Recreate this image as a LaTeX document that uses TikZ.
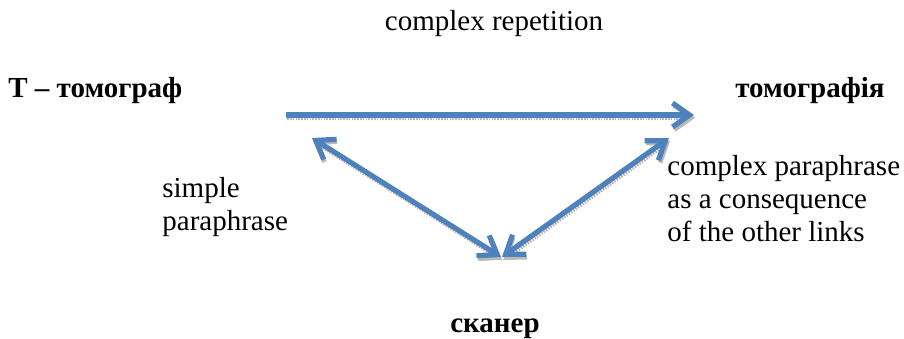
\documentclass[tikz,border=0pt]{standalone}
\usepackage{fontspec}
\setmainfont{Liberation Serif}
\usetikzlibrary{arrows.meta}
\definecolor{linkblue}{RGB}{79,129,189}
\begin{document}
\begin{tikzpicture}[x=0.5pt,y=-0.5pt,
  lbl/.style={inner sep=0pt,font=\fontsize{14.5pt}{16.5pt}\selectfont},
  term/.style={lbl,font=\fontsize{14.5pt}{16.5pt}\selectfont\bfseries},
  barb/.tip={Straight Barb[length=8.5pt,width=12pt]},
  link/.style={draw=linkblue,line width=2.6pt,arrows={-barb}},
  twolink/.style={link,arrows={barb-barb}},
  shade/.style={draw=gray!55,line width=2.2pt,dash pattern=on 0.8pt off 0.6pt,
    transform canvas={shift={(0.6pt,-1.4pt)}}}]
\useasboundingbox (0,0) rectangle (904,338);

% words and link labels
\node[lbl,anchor=base] (rep) at (494,30) {complex repetition};
\node[term,anchor=base west] (t1) at (8,97) {Т – томограф};
\node[term,anchor=base east] (t2) at (885,97) {томографія};
\node[term,anchor=base] (t3) at (495,332) {сканер};
\node[lbl,anchor=base west,align=left] (simple) at (162,230) {simple\\paraphrase};
\node[lbl,anchor=base west,align=left] (cplx) at (667,241) {complex paraphrase\\as a consequence\\of the other links};

% arrow end points
\coordinate (hA) at (286,115);
\coordinate (hB) at (694,115);
\coordinate (lA) at (312,138);
\coordinate (lB) at (501,257);
\coordinate (rA) at (669,138);
\coordinate (rB) at (502,257);

% soft shadows under the arrows
\draw[shade,arrows={-barb}] (hA) -- (hB);
\draw[shade,arrows={barb-barb}] (lA) -- (lB);
\draw[shade,arrows={barb-barb}] (rA) -- (rB);

% the links
\draw[link] (hA) -- (hB);
\draw[twolink] (lA) -- (lB);
\draw[twolink] (rA) -- (rB);
\end{tikzpicture}
\end{document}
